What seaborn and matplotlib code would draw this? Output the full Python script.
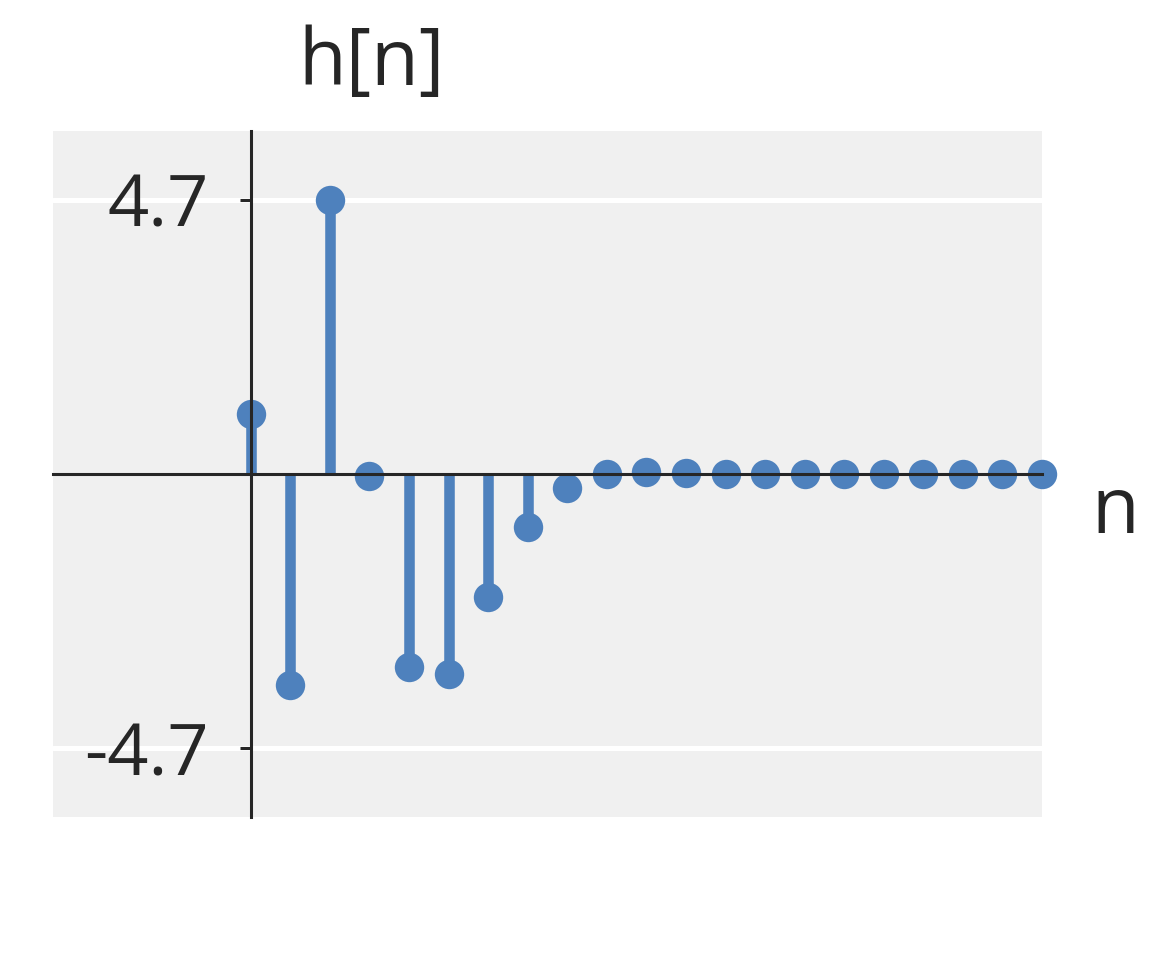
import numpy as np
import pandas as pd
import matplotlib
matplotlib.use("Agg")
import matplotlib.pyplot as plt
import seaborn as sns

# impulse response samples
n = list(range(21))
h = [1.03, -3.62, 4.7, -0.03, -3.3, -3.42, -2.1, -0.9, -0.24, 0.0,
     0.03, 0.01, 0.0, 0.0, 0.0, 0.0, 0.0, 0.0, 0.0, 0.0, 0.0]
yticks = [-4.7, 4.7]
yticklabels = ["-4.7", "4.7"]

df = pd.DataFrame({"n": n, "h": h})
blue = "#4e81bd"

sns.set_style("darkgrid", {"axes.facecolor": "#f0f0f0", "grid.color": "white"})
plt.rcParams["font.family"] = ["Open Sans", "DejaVu Sans"]

fig = plt.figure(figsize=(5.76, 4.8), dpi=200)
ax = fig.add_axes([53 / 1152, 1 - 817 / 960, 989 / 1152, 686 / 960])

# stems then heads
ax.vlines(df["n"], 0, df["h"], color=blue, linewidth=3.8, zorder=2,
          clip_on=False)
sns.scatterplot(data=df, x="n", y="h", color=blue, s=112, linewidth=0,
                ax=ax, zorder=3, clip_on=False)

ax.set_xlim(-5, 20)
ax.set_ylim(-5.875, 5.875)
ax.set_xticks([])
ax.set_yticks(yticks)
ax.set_yticklabels(yticklabels)
ax.tick_params(axis="y", labelsize=26, length=4, width=1.1, pad=11,
               left=True, color="#262626", labelcolor="#262626")
ax.grid(axis="x", visible=False)
ax.grid(axis="y", linewidth=1.8)
ax.set_xlabel("")
ax.set_ylabel("")

for side in ["top", "right"]:
    ax.spines[side].set_visible(False)
for side in ["left", "bottom"]:
    ax.spines[side].set_visible(True)
    ax.spines[side].set_position(("data", 0))
    ax.spines[side].set_color("#262626")
    ax.spines[side].set_linewidth(1.1)
    ax.spines[side].set_zorder(5)

fig.text(372 / 1152, 1 - 85 / 960, "h[n]", fontsize=28, ha="center",
         va="baseline", color="#262626")
fig.text(1115 / 1152, 1 - 533 / 960, "n", fontsize=28, ha="center",
         va="baseline", color="#262626")

fig.savefig("out.png", dpi=200)
